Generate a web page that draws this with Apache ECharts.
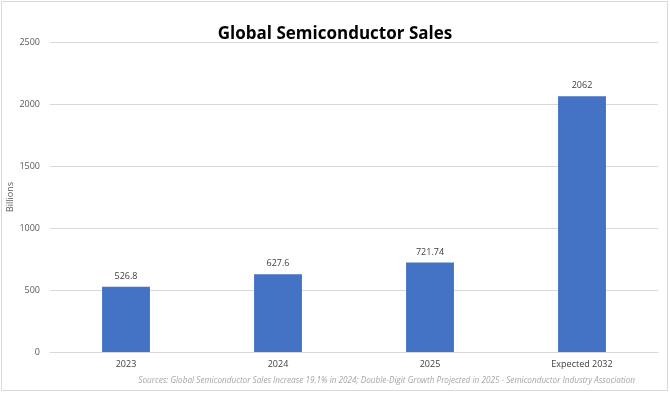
<!DOCTYPE html>
<html><head><meta charset="utf-8">
<script src="https://cdn.jsdelivr.net/npm/echarts@6/dist/echarts.min.js"></script>
<style>html,body{margin:0;padding:0;background:#fff}#c{width:670px;height:393px}</style>
</head><body><div id="c"></div>
<script>
const categories = ['2023', '2024', '2025', 'Expected 2032'];
const sales = [526.8, 627.6, 721.74, 2062];
const yTicks = { min: 0, max: 2500, interval: 500 };

const chart = echarts.init(document.getElementById('c'), null, { renderer: 'canvas' });
const font = "'Open Sans', 'Liberation Sans', sans-serif";
chart.setOption({
  animation: false,
  graphic: [
    { type: 'rect', shape: { x: 1.5, y: 1.5, width: 666, height: 389 }, style: { fill: 'none', stroke: '#d9d9d9', lineWidth: 1 } },
    { type: 'text', right: 35, top: 377, style: { text: 'Sources: Global Semiconductor Sales Increase 19.1% in 2024; Double-Digit Growth Projected in 2025 - Semiconductor Industry Association', fill: '#a6a6a6', font: 'italic 8.2px ' + font } }
  ],
  title: { text: 'Global Semiconductor Sales', left: 'center', top: 21, textStyle: { fontFamily: font, fontWeight: 'bold', fontSize: 17, color: '#000' } },
  grid: { left: 50, right: 12, top: 42, bottom: 41, containLabel: false, outerBoundsMode: 'none' },
  xAxis: {
    type: 'category', data: categories,
    axisLine: { lineStyle: { color: '#d9d9d9' } }, axisTick: { show: false },
    axisLabel: { color: '#404040', fontSize: 9, fontFamily: font, margin: 8 }
  },
  yAxis: {
    type: 'value', min: yTicks.min, max: yTicks.max, interval: yTicks.interval,
    name: 'Billions', nameLocation: 'middle', nameGap: 35, nameRotate: 90, nameMoveOverlap: false,
    nameTextStyle: { color: '#595959', fontSize: 9, fontFamily: font },
    axisLine: { show: false }, axisTick: { show: false },
    splitLine: { lineStyle: { color: '#d9d9d9' } },
    axisLabel: { color: '#595959', fontSize: 9, fontFamily: font, margin: 10, formatter: v => String(v) }
  },
  series: [{
    type: 'bar', data: sales, barWidth: '31.5%',
    itemStyle: { color: '#4472C4' },
    label: { show: true, position: 'top', color: '#404040', fontSize: 9, fontFamily: font, distance: 6 }
  }]
});
</script></body></html>
